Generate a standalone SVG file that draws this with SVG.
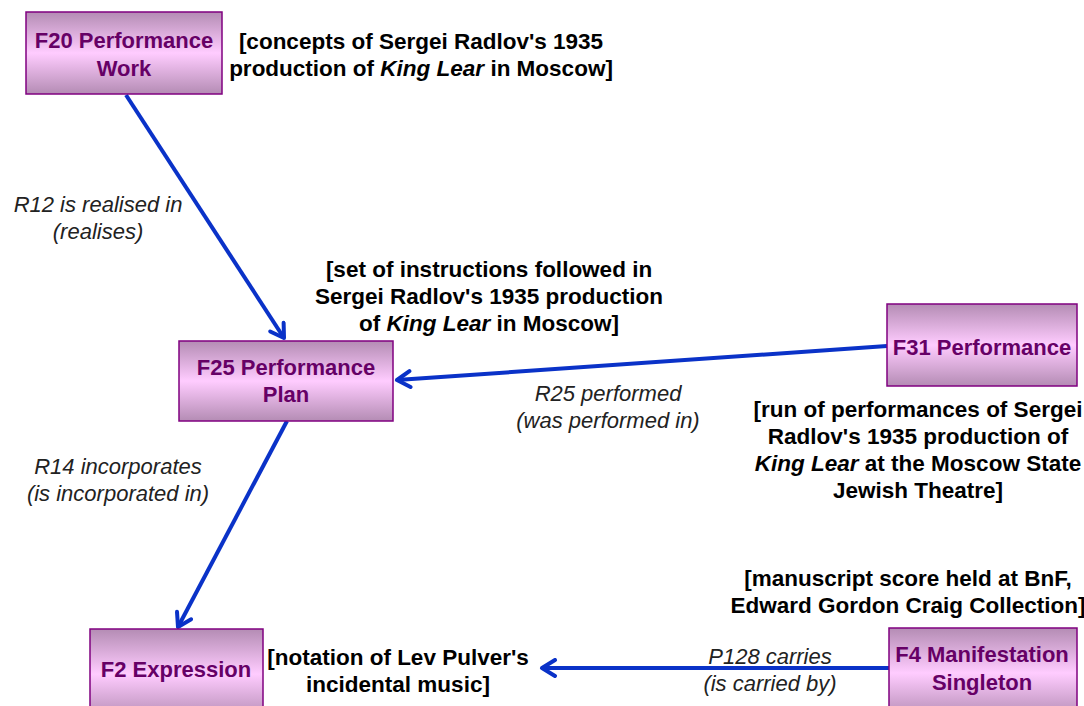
<svg xmlns="http://www.w3.org/2000/svg" width="1084" height="706" viewBox="0 0 1084 706">
<defs>
<linearGradient id="g" x1="0" y1="0" x2="0" y2="1">
<stop offset="0" stop-color="#b48cb4"/>
<stop offset="0.5" stop-color="#ffccff"/>
<stop offset="1" stop-color="#b48cb4"/>
</linearGradient>
<marker id="ah" markerUnits="userSpaceOnUse" viewBox="0 0 20 20" refX="16" refY="10" markerWidth="20" markerHeight="20" orient="auto">
<path d="M3,2 L16,10 L3,18" fill="none" stroke="#0a32c8" stroke-width="4" stroke-linecap="round" stroke-linejoin="round"/>
</marker>
<style>
.n{fill:url(#g);stroke:#800080;stroke-width:1.5}
.nt{font-family:"Liberation Sans",Arial,sans-serif;font-weight:bold;font-size:22px;fill:#660066;text-anchor:middle}
.a{font-family:"Liberation Sans",Arial,sans-serif;font-weight:bold;font-size:22.5px;fill:#000;text-anchor:middle}
.l{font-family:"Liberation Sans",Arial,sans-serif;font-style:italic;font-size:22px;fill:#222;text-anchor:middle}
.c{stroke:#0a32c8;stroke-width:4;fill:none;marker-end:url(#ah)}
.i{font-style:italic}
</style>
</defs>
<rect width="1084" height="706" fill="#fff"/>
<g id="connectors">
<line class="c" x1="126" y1="95" x2="284" y2="338"/>
<line class="c" x1="887" y1="346" x2="397" y2="380"/>
<line class="c" x1="287" y1="421" x2="178" y2="627"/>
<line class="c" x1="889" y1="668" x2="542" y2="668"/>
</g>
<g id="F20">
<rect class="n" x="26" y="12" width="196" height="82"/>
<text class="nt" x="124" y="48">F20 Performance</text>
<text class="nt" x="124" y="76">Work</text>
</g>
<g id="F25">
<rect class="n" x="179" y="341" width="214" height="80"/>
<text class="nt" x="286" y="375">F25 Performance</text>
<text class="nt" x="286" y="402">Plan</text>
</g>
<g id="F31">
<rect class="n" x="887" y="304" width="190" height="82"/>
<text class="nt" x="982" y="355">F31 Performance</text>
</g>
<g id="F2">
<rect class="n" x="90" y="629" width="173" height="90"/>
<text class="nt" x="176" y="677">F2 Expression</text>
</g>
<g id="F4">
<rect class="n" x="889" y="628" width="188" height="90"/>
<text class="nt" x="982" y="662">F4 Manifestation</text>
<text class="nt" x="982" y="690">Singleton</text>
</g>
<g id="labels">
<text class="a" x="421" y="49">[concepts of Sergei Radlov's 1935</text>
<text class="a" x="421" y="76">production of <tspan class="i">King Lear</tspan> in Moscow]</text>
<text class="l" x="98" y="212">R12 is realised in</text>
<text class="l" x="98" y="239">(realises)</text>
<text class="a" x="489" y="277">[set of instructions followed in</text>
<text class="a" x="489" y="304">Sergei Radlov's 1935 production</text>
<text class="a" x="489" y="331">of <tspan class="i">King Lear</tspan> in Moscow]</text>
<text class="l" x="608" y="401">R25 performed</text>
<text class="l" x="608" y="428">(was performed in)</text>
<text class="a" x="918" y="417">[run of performances of Sergei</text>
<text class="a" x="918" y="444">Radlov's 1935 production of</text>
<text class="a" x="918" y="471"><tspan class="i">King Lear</tspan> at the Moscow State</text>
<text class="a" x="918" y="498">Jewish Theatre]</text>
<text class="l" x="118" y="474">R14 incorporates</text>
<text class="l" x="118" y="501">(is incorporated in)</text>
<text class="a" x="908" y="586">[manuscript score held at BnF,</text>
<text class="a" x="908" y="613">Edward Gordon Craig Collection]</text>
<text class="a" x="398" y="665">[notation of Lev Pulver's</text>
<text class="a" x="398" y="692">incidental music]</text>
<text class="l" x="770" y="664">P128 carries</text>
<text class="l" x="770" y="691">(is carried by)</text>
</g>
</svg>
